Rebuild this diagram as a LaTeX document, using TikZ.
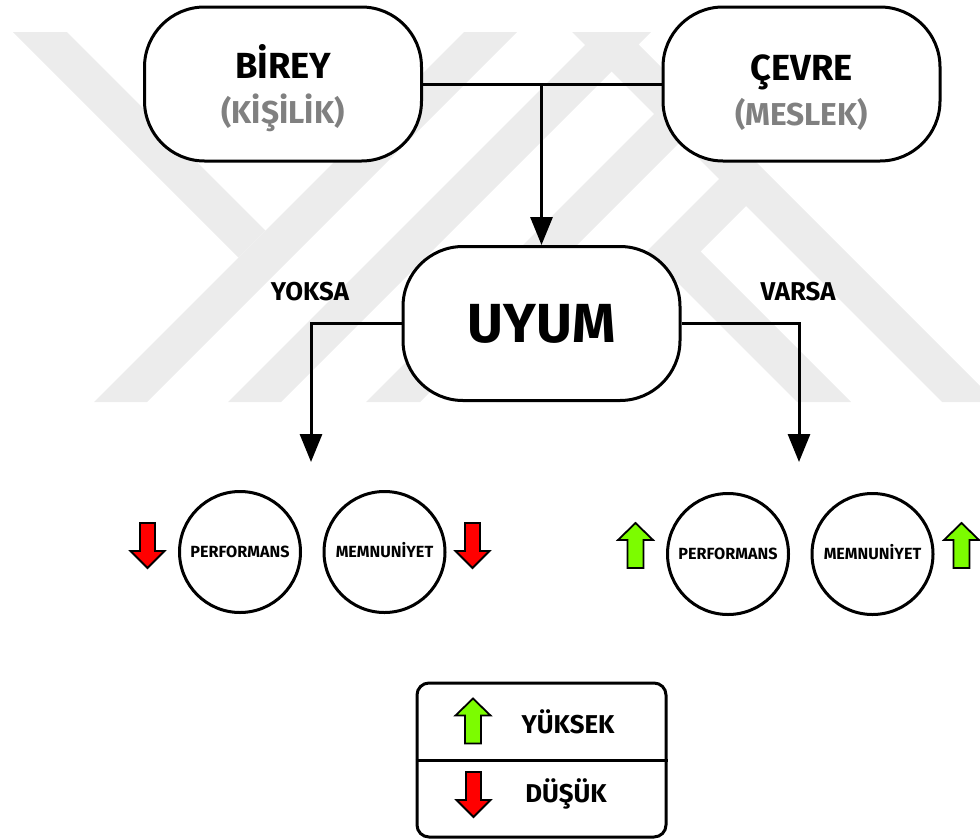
\documentclass[tikz,border=0pt]{standalone}
\usepackage{fontspec}
\setmainfont{Fira Sans}
\usepackage{tikz}
\usetikzlibrary{arrows.meta,backgrounds,positioning}
\newdimen\pxl \pxl=0.03cm
\definecolor{hiGreen}{RGB}{124,252,0}
\definecolor{loRed}{RGB}{255,0,0}
\definecolor{subGray}{RGB}{128,128,128}
\definecolor{markGray}{RGB}{236,236,236}
\tikzstyle{pill}=[
  draw,rounded corners=60\pxl,minimum width=277\pxl,minimum height=154\pxl,
  inner sep=0pt,fill=white,line width=3\pxl,align=center,
  font=\bfseries\fontsize{31}{38.5}\selectfont
]
\tikzstyle{kpi}=[
  draw,circle,minimum size=121\pxl,inner sep=0pt,fill=white,line width=3\pxl,
  font=\bfseries\fontsize{13.8}{17}\selectfont,text height=9.5pt,text depth=0pt
]
\tikzstyle{branch}=[
  font=\bfseries\fontsize{22}{26}\selectfont,anchor=base,inner sep=0pt
]
\tikzstyle{wire}=[
  line width=3\pxl
]
\tikzstyle{link}=[
  line width=3\pxl,-{Triangle[width=18.8pt,length=23.9pt]}
]
\tikzstyle{blockarrow}=[
  draw=black,line width=1.8\pxl,line join=miter
]
\tikzstyle{legendbox}=[
  draw,rounded corners=12\pxl,minimum width=249\pxl,minimum height=154\pxl,
  line width=3\pxl,fill=white
]
\newcommand{\higharrow}[1]{%
  \draw [blockarrow,fill=hiGreen,shift={(#1)}] (0,-22.5) -- (17.5,-5.5) -- (8,-5.5)
    -- (8,22.5) -- (-8,22.5) -- (-8,-5.5) -- (-17.5,-5.5) -- cycle;}
\newcommand{\lowarrow}[1]{%
  \draw [blockarrow,fill=loRed,shift={(#1)}] (0,22.5) -- (17,5.5) -- (7.5,5.5)
    -- (7.5,-22.5) -- (-7.5,-22.5) -- (-7.5,5.5) -- (-17,5.5) -- cycle;}

\begin{document}
\begin{tikzpicture}[x=0.03cm,y=-0.03cm]
    \useasboundingbox (0,0) rectangle (980,838);
    % watermark
    \begin{scope}[on background layer]
      \fill [markGray] (13,32) -- (67,32) -- (265.5,230.5) -- (238.5,257.5) -- cycle;
      \fill [markGray] (464,32) -- (517,32) -- (147,402) -- (94,402) -- cycle;
      \fill [markGray] (598,32) -- (651,32) -- (281,402) -- (228,402) -- cycle;
      \fill [markGray] (736,32) -- (790,32) -- (420,402) -- (366,402) -- cycle;
      \fill [markGray] (572,32) -- (626,32) -- (996,402) -- (942,402) -- cycle;
      \fill [markGray] (729,169) -- (756,196) -- (550,402) -- (496,402) -- cycle;
      \fill [markGray] (665,270) -- (692,243) -- (851,402) -- (797,402) -- cycle;
    \end{scope}
    % top row
    \node (birey) [pill] at (283,84) {\rule{0pt}{36pt}BİREY\\{\fontsize{27}{38.5}\selectfont\color{subGray}(KİŞİLİK)}};
    \node (cevre) [pill] at (801.5,84) {\rule{0pt}{36pt}ÇEVRE\\{\fontsize{27}{38.5}\selectfont\color{subGray}(MESLEK)}};
    \node (uyum) [pill,font=\bfseries\fontsize{47}{50}\selectfont] at (541.5,323.5) {UYUM};
    \draw [wire] (birey.east) -- (cevre.west);
    \draw [link] (birey.east -| uyum.north) -- (uyum.north);
    % branches
    \node (yoksa) [branch] at (310,300) {YOKSA};
    \node (varsa) [branch] at (798,300) {VARSA};
    \coordinate (nofit) at (311,462);
    \coordinate (yesfit) at (799,462);
    \draw [link] (uyum.west) -| (nofit);
    \draw [link] (uyum.east) -| (yesfit);
    % results
    \node (perfno) [kpi] at (240,552) {PERFORMANS};
    \node (memnno) [kpi,right=20.5\pxl of perfno] {MEMNUNİYET};
    \node (perfyes) [kpi] at (728,554) {PERFORMANS};
    \node (memnyes) [kpi,right=20.5\pxl of perfyes] {MEMNUNİYET};
    \lowarrow{147.5,545.5}
    \lowarrow{472.5,545.5}
    \higharrow{635.5,545.5}
    \higharrow{961.5,545.5}
    % legend
    \node (legend) [legendbox] at (541.5,760) {};
    \draw [wire] (legend.west) -- (legend.east);
    \higharrow{473,721}
    \lowarrow{473.5,794.5}
    \node (hi) [branch] at (568,733) {YÜKSEK};
    \node (lo) [branch] at (566,802) {DÜŞÜK};
\end{tikzpicture}
\end{document}
